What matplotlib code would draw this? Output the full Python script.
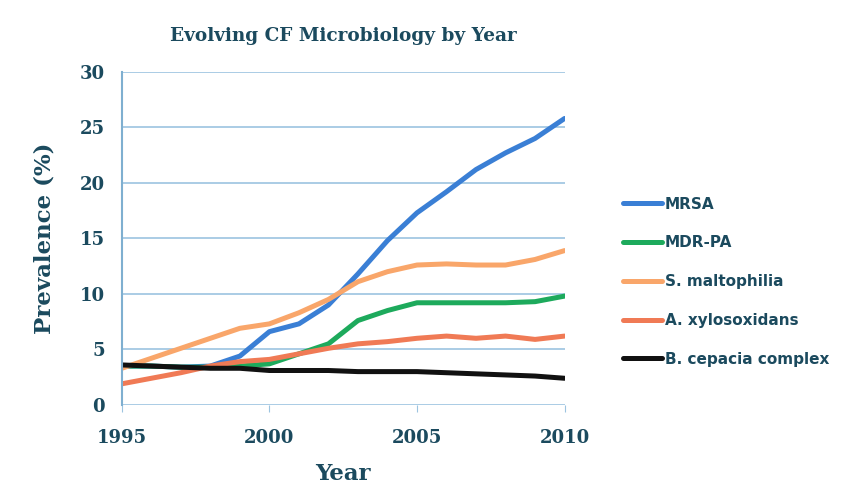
import matplotlib
matplotlib.use("Agg")
from matplotlib import pyplot as plt
import numpy as np

years = list(range(1995, 2011))
mrsa = [3.5, 3.5, 3.4, 3.5, 4.4, 6.6, 7.3, 9.0, 11.8, 14.8, 17.3, 19.2, 21.2, 22.7, 24.0, 25.8]
mdr_pa = [3.5, 3.5, 3.4, 3.4, 3.5, 3.7, 4.6, 5.5, 7.6, 8.5, 9.2, 9.2, 9.2, 9.2, 9.3, 9.8]
malto = [3.3, 4.2, 5.1, 6.0, 6.9, 7.3, 8.3, 9.5, 11.1, 12.0, 12.6, 12.7, 12.6, 12.6, 13.1, 13.9]
xylo = [1.9, 2.4, 2.9, 3.5, 3.9, 4.1, 4.6, 5.1, 5.5, 5.7, 6.0, 6.2, 6.0, 6.2, 5.9, 6.2]
cepacia = [3.6, 3.5, 3.4, 3.3, 3.3, 3.1, 3.1, 3.1, 3.0, 3.0, 3.0, 2.9, 2.8, 2.7, 2.6, 2.4]

labels = ["MRSA", "MDR-PA", "S. maltophilia", "A. xylosoxidans", "B. cepacia complex"]
series = [mrsa, mdr_pa, malto, xylo, cepacia]
colors = ["#3A7FD5", "#1DAA5C", "#F9A66A", "#F07A55", "#111111"]

text_col = "#1B4A5E"

fig = plt.figure(figsize=(8.58, 4.92), dpi=100)
ax = fig.add_axes([0.142, 0.177, 0.516, 0.677])

# black drawn last so it sits on top
for vals, c, lab in zip(series, colors, labels):
    ax.plot(years, vals, color=c, lw=3.6, label=lab, solid_capstyle="round")

ax.set_xlim(1995, 2010)
ax.set_ylim(0, 30)
ax.set_xticks([1995, 2000, 2005, 2010])
ax.set_yticks(range(0, 31, 5))
ax.yaxis.grid(True, color="#9CC4E0", lw=1.2)
ax.set_axisbelow(True)
for s in ["top", "right", "bottom"]:
    ax.spines[s].set_visible(False)
ax.spines["left"].set_color("#7FAFD0")
ax.spines["left"].set_linewidth(1.5)
ax.tick_params(axis="y", length=0, pad=12)
ax.tick_params(axis="x", length=5, color="#9CC4E0", pad=12)
for t in ax.get_xticklabels() + ax.get_yticklabels():
    t.set_fontfamily("DejaVu Serif")
    t.set_fontweight("bold")
    t.set_fontsize(13)
    t.set_color(text_col)

ax.set_xlabel("Year", fontfamily="DejaVu Serif", fontweight="bold", fontsize=16.5, color=text_col, labelpad=12)
ax.set_ylabel("Prevalence (%)", fontfamily="DejaVu Serif", fontweight="bold", fontsize=16.5, color=text_col, labelpad=18)
ax.set_title("Evolving CF Microbiology by Year", fontfamily="DejaVu Serif", fontweight="bold",
             fontsize=13.3, color=text_col, pad=22)

leg = ax.legend(loc="center left", bbox_to_anchor=(1.1, 0.37), frameon=False,
                handlelength=2.6, handletextpad=0.15, labelspacing=1.55,
                prop={"family": "DejaVu Sans", "weight": "bold", "size": 11})
for t in leg.get_texts():
    t.set_color(text_col)

fig.savefig("out.png", dpi=100)
